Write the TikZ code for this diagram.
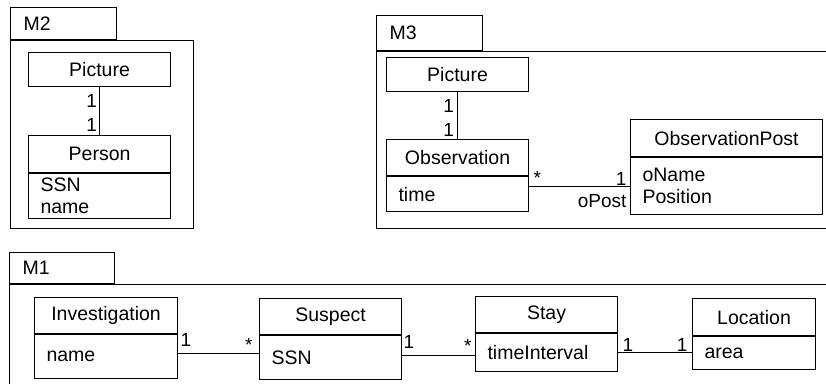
\documentclass[tikz,border=0pt]{standalone}
\usepackage{fontspec}
\setmainfont{Liberation Sans}
\usetikzlibrary{positioning}

\begin{document}
\begin{tikzpicture}[x=1pt,y=-1pt,line width=1.1pt,
  every node/.style={font=\fontsize{19.5}{22}\selectfont,inner sep=0pt},
  pkgtab/.style={draw,anchor=north west,inner xsep=13pt,align=left},
  pkgbody/.style={draw,anchor=north west},
  clshead/.style={draw,anchor=north west,align=center},
  clsattr/.style={draw,inner xsep=12pt,align=left},
  mult/.style={font=\fontsize{19}{20}\selectfont}]
\clip (0,0) rectangle (826,383);
%M2
\node[pkgtab,text width=80pt,minimum height=32pt] (m2tab) at (10,7) {M2};
\node[pkgbody,minimum width=183pt,minimum height=188pt] (m2) at (m2tab.south west) {};
\node[clshead,minimum width=142pt,minimum height=34pt] (m2pic) at (28,52) {Picture};
\node[clshead,minimum width=142pt,minimum height=37pt] (perH) at (28,135) {Person};
\node[clsattr,below=0pt of perH,text width=118pt,minimum height=45pt] (perA) {SSN\\name};
\draw (m2pic.south) -- (perH.north)
  node[mult,pos=0,below left=7pt and 2pt] (m2a) {1}
  node[mult,pos=1,above left=3pt and 2pt] (m2b) {1};
%M3
\node[pkgtab,text width=80pt,minimum height=35pt] (m3tab) at (376,15) {M3};
\node[pkgbody,minimum width=460pt,minimum height=177pt] (m3) at (m3tab.south west) {};
\node[clshead,minimum width=142pt,minimum height=34pt] (m3pic) at (386,57) {Picture};
\node[clshead,minimum width=142pt,minimum height=36pt] (obsH) at (386,139) {Observation};
\node[clsattr,below=0pt of obsH,text width=118pt,minimum height=35pt] (obsA) {time};
\node[clshead,minimum width=192pt,minimum height=37pt] (postH) at (630,119) {ObservationPost};
\node[clsattr,below=0pt of postH,text width=168pt,minimum height=57pt] (postA) {oName\\Position};
\draw (m3pic.south) -- (obsH.north)
  node[mult,pos=0,below left=7pt and 3pt] (m3a) {1}
  node[mult,pos=1,above left=2pt and 3pt] (m3b) {1};
\draw (postA.west -| obsA.east) -- (postA.west)
  node[mult,pos=0,above right=1pt and 4pt] (m3c) {*}
  node[mult,pos=1,above left=0pt and 3pt] (m3d) {1}
  node[mult,pos=1,below left=8pt and 3pt] (role) {oPost};
%M1
\node[pkgtab,text width=79pt,minimum height=31pt] (m1tab) at (9,252) {M1};
\node[pkgbody,minimum width=830pt,minimum height=120pt] (m1) at (m1tab.south west) {};
\node[clshead,minimum width=143pt,minimum height=36pt] (invH) at (34,297) {Investigation};
\node[clsattr,below=0pt of invH,text width=119pt,minimum height=44pt] (invA) {name};
\node[clshead,minimum width=142pt,minimum height=36pt] (susH) at (259,298) {Suspect};
\node[clsattr,below=0pt of susH,text width=118pt,minimum height=44pt] (susA) {SSN};
\node[clshead,minimum width=142pt,minimum height=36pt] (stayH) at (475,296) {Stay};
\node[clsattr,below=0pt of stayH,text width=118pt,minimum height=38pt] (stayA) {timeInterval};
\node[clshead,minimum width=123pt,minimum height=37pt] (locH) at (692,298) {Location};
\node[clsattr,below=0pt of locH,text width=99pt,minimum height=33pt] (locA) {area};
\draw ([yshift=3pt]invA.east) -- ([yshift=3pt]invA.east -| susA.west)
  node[mult,pos=0,above right=7pt and 2pt] (m1a) {1}
  node[mult,pos=1,above left=1.5pt and 6pt] (m1b) {*};
\draw ([yshift=2pt]susA.east) -- ([yshift=2pt]susA.east -| stayA.west)
  node[mult,pos=0,above right=7pt and 1pt] (m1c) {1}
  node[mult,pos=1,above left=3pt and 3pt] (m1d) {*};
\draw (stayA.east) -- (stayA.east -| locA.west)
  node[mult,pos=0,above right=1pt and 4pt] (m1e) {1}
  node[mult,pos=1,above left=1pt and 4pt] (m1f) {1};
\end{tikzpicture}
\end{document}
